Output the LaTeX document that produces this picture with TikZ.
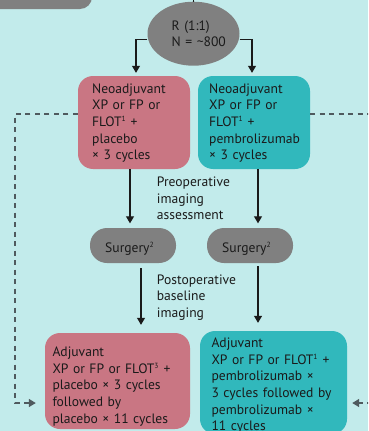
\documentclass[tikz,border=0pt]{standalone}
\usepackage{fontspec}
\setmainfont{PT Sans}
\usetikzlibrary{arrows.meta,shapes.geometric}
\definecolor{bg}{HTML}{C2EBEB}
\definecolor{pinkbox}{HTML}{C97683}
\definecolor{tealbox}{HTML}{31B8BC}
\definecolor{greyshape}{HTML}{808080}
\definecolor{dashcol}{HTML}{4F5A5E}
\definecolor{txt}{HTML}{1A1A1A}
\newcommand{\supnum}[1]{\textsuperscript{\fontsize{7.5}{8}\selectfont #1}}
\begin{document}
\begin{tikzpicture}[x=1pt,y=-1pt,
  box/.style={rectangle,rounded corners=15pt,inner sep=0pt,draw=none},
  pinkfill/.style={box,fill=pinkbox},
  tealfill/.style={box,fill=tealbox},
  pill/.style={rectangle,rounded corners=17pt,fill=greyshape,minimum width=86pt,minimum height=35pt,inner sep=0pt},
  txtblock/.style={anchor=base west,inner sep=0pt,align=left,text width=150pt,font=\fontsize{13.6}{16.6}\selectfont,text=txt},
  arr/.style={draw=txt,line width=1.2pt,-{Triangle[width=8pt,length=7pt]}},
  plainline/.style={draw=txt,line width=1.2pt},
  dashline/.style={draw=dashcol,line width=1.3pt,dash pattern=on 5pt off 4.5pt,-{Triangle[width=8pt,length=7pt]}},
  dashplain/.style={draw=dashcol,line width=1.3pt,dash pattern=on 5pt off 4.5pt},
]
\useasboundingbox (0,0) rectangle (368,431);
\clip (0,0) rectangle (368,431);
\fill[bg] (0,0) rectangle (368,431);

% top grey box (cut off)
\node[box,fill=greyshape,rounded corners=12pt,minimum width=132pt,minimum height=40pt] (topbox) at (26,-11) {};
% randomisation ellipse
\node[ellipse,fill=greyshape,minimum width=92pt,minimum height=64pt,inner sep=0pt] (R) at (193.5,33.7) {};
\coordinate (topin) at (193.5,-3);
\draw[plainline] (topin) -- (R.north);
\node[txtblock] (Rt) at (171.5,30.5) {R (1:1)\\[-0.4pt]N = \textasciitilde800};

% neoadjuvant boxes
\node[pinkfill,minimum width=112pt,minimum height=93pt] (neoL) at (134,122.5) {};
\node[tealfill,minimum width=112pt,minimum height=93pt] (neoR) at (254,122.5) {};
\node[txtblock] (neoLt) at (92,93.3) {Neoadjuvant\\XP or FP or\\FLOT\supnum{1} +\\placebo\\\texttimes\ 3 cycles};
\node[txtblock] (neoRt) at (209,93.3) {Neoadjuvant\\XP or FP or\\FLOT\supnum{1} +\\pembrolizumab\\\texttimes\ 3 cycles};

% surgery pills
\node[pill] (surgL) at (133,245.5) {};
\node[pill] (surgR) at (250,245.5) {};
\node[txtblock] (surgLt) at (105,252.7) {Surgery\supnum{2}};
\node[txtblock] (surgRt) at (222,252.7) {Surgery\supnum{2}};

% adjuvant boxes
\node[pinkfill,minimum width=145pt,minimum height=96pt] (adjL) at (117.5,381) {};
\node[tealfill,minimum width=147pt,minimum height=103pt] (adjR) at (273.5,382.5) {};
\node[txtblock] (adjLt) at (52.3,356.7) {Adjuvant\\XP or FP or FLOT\supnum{3} +\\placebo \texttimes\ 3 cycles\\followed by\\placebo \texttimes\ 11 cycles};
\node[txtblock] (adjRt) at (211.3,347.7) {Adjuvant\\XP or FP or FLOT\supnum{1} +\\pembrolizumab \texttimes\\3 cycles followed by\\pembrolizumab \texttimes\\11 cycles};

% imaging labels
\node[txtblock] (preop) at (156.7,186.7) {Preoperative\\imaging\\assessment};
\node[txtblock] (postop) at (156.7,284) {Postoperative\\baseline\\imaging};

% solid arrows
\draw[arr,shorten >=3pt] ([yshift=-5.5pt]R.west) -| ([xshift=2pt]neoL.north);
\draw[arr,shorten >=3pt] ([yshift=-5.5pt]R.east) -| ([xshift=-2pt]neoR.north);
\draw[arr,shorten >=4.5pt] ([xshift=-4pt]neoL.south) -- ([xshift=-4pt]neoL.south |- surgL.north);
\draw[arr,shorten >=4.5pt] ([xshift=4pt]neoR.south) -- ([xshift=4pt]neoR.south |- surgR.north);
\draw[arr,shorten <=5pt,shorten >=8pt] ([xshift=8pt]surgL.south) -- ([xshift=8pt]surgL.south |- adjL.north);
\draw[arr,shorten <=3pt,shorten >=8pt] ([xshift=8pt]surgR.south) -- ([xshift=8pt]surgR.south |- adjR.north);

% dashed lines
\coordinate (dlb) at (15,403);
\draw[dashline] ([yshift=8.5pt]neoL.west) -| (dlb) -- ([xshift=-9pt]adjL.west |- dlb);
\coordinate (drt) at (372,114);
\draw[dashplain] ([yshift=8.5pt]neoR.east) -- (drt);
\coordinate (drb) at (372,403);
\draw[dashline] (drb) -- ([xshift=5pt]adjR.east |- drb);
\end{tikzpicture}
\end{document}
